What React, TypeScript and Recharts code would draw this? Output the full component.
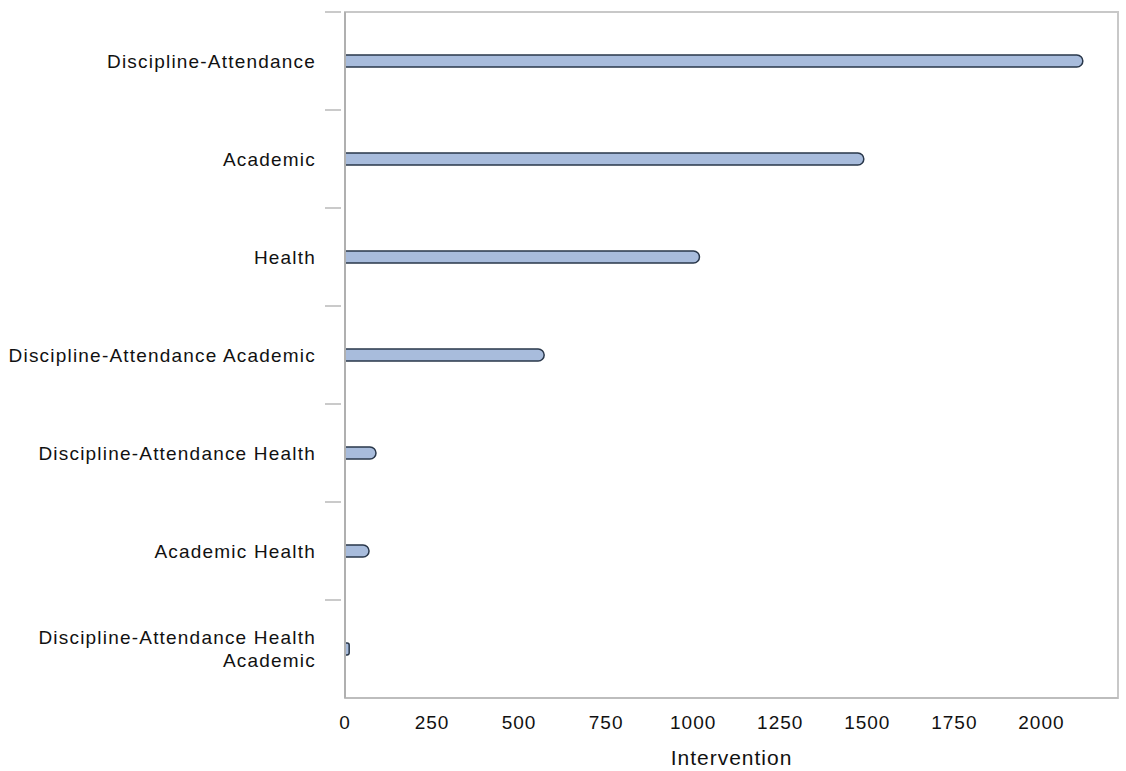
import { BarChart, Bar, XAxis, YAxis, ReferenceArea, ResponsiveContainer } from "recharts";

const WIDTH = 1126;
const HEIGHT = 771;
const MARGIN = { top: 12, right: 8, left: 0, bottom: 0 };
const X_AXIS_HEIGHT = 73;

const categories = [
  "Discipline-Attendance",
  "Academic",
  "Health",
  "Discipline-Attendance Academic",
  "Discipline-Attendance Health",
  "Academic Health",
  "Discipline-Attendance Health Academic",
];
const interventions = [2119, 1490, 1018, 572, 89, 69, 12];
const xTicks = [0, 250, 500, 750, 1000, 1250, 1500, 1750, 2000];
const X_MAX = 2220;

const data = categories.map((name, i) => ({ name, value: interventions[i] }));

const FONT = "'Liberation Sans', Arial, sans-serif";
const BAND = (HEIGHT - MARGIN.top - MARGIN.bottom - X_AXIS_HEIGHT) / categories.length;

function wrap(label: string, max = 30) {
  const lines: string[] = [];
  let cur = "";
  for (const w of label.split(" ")) {
    const next = cur ? cur + " " + w : w;
    if (next.length > max && cur) {
      lines.push(cur);
      cur = w;
    } else cur = next;
  }
  if (cur) lines.push(cur);
  return lines;
}

function CategoryTick(props: any) {
  const { x, y, payload } = props;
  const lines = wrap(String(payload.value));
  const lh = 23.5;
  const start = 6.5 - ((lines.length - 1) * lh) / 2;
  return (
    <g>
      <line x1={x - 20} x2={x - 4} y1={y - BAND / 2} y2={y - BAND / 2} stroke="#b8b8b8" strokeWidth={1.5} />
      <text
        x={x - 29}
        y={y}
        textAnchor="end"
        fill="#111"
        fontSize={19}
        letterSpacing={1.2}
        fontFamily={FONT}
      >
        {lines.map((l, i) => (
          <tspan key={i} x={x - 29} dy={i === 0 ? start : lh}>
            {l}
          </tspan>
        ))}
      </text>
    </g>
  );
}

export default function App() {
  return (
    <div style={{ position: "absolute", left: 0, top: 0, width: WIDTH, height: HEIGHT, background: "#fff" }}>
      <ResponsiveContainer width="100%" height="100%">
        <BarChart data={data} layout="vertical" margin={MARGIN}>
          <ReferenceArea
            x1={0}
            x2={X_MAX}
            fill="none"
            stroke="#c8c8c8"
            strokeWidth={2}
            ifOverflow="visible"
          />
          <XAxis
            type="number"
            domain={[0, X_MAX]}
            ticks={xTicks}
            tickLine={false}
            tickSize={0}
            tickMargin={18}
            height={X_AXIS_HEIGHT}
            axisLine={{ stroke: "#bdbdbd", strokeWidth: 2 }}
            tick={{ fill: "#111", fontSize: 19, fontFamily: FONT, letterSpacing: 1 }}
            label={{
              value: "Intervention",
              position: "insideBottom",
              offset: 6,
              fill: "#111",
              fontSize: 21,
              fontFamily: FONT,
              letterSpacing: 1,
            }}
          />
          <YAxis
            type="category"
            dataKey="name"
            width={345}
            interval={0}
            tickLine={false}
            tickSize={0}
            tickMargin={0}
            axisLine={{ stroke: "#b0b0b0", strokeWidth: 2 }}
            tick={<CategoryTick />}
          />
          <Bar
            dataKey="value"
            barSize={12}
            fill="#a8bcdc"
            stroke="#29374a"
            strokeWidth={1.5}
            radius={[0, 6, 6, 0]}
            isAnimationActive={false}
          />
        </BarChart>
      </ResponsiveContainer>
    </div>
  );
}
